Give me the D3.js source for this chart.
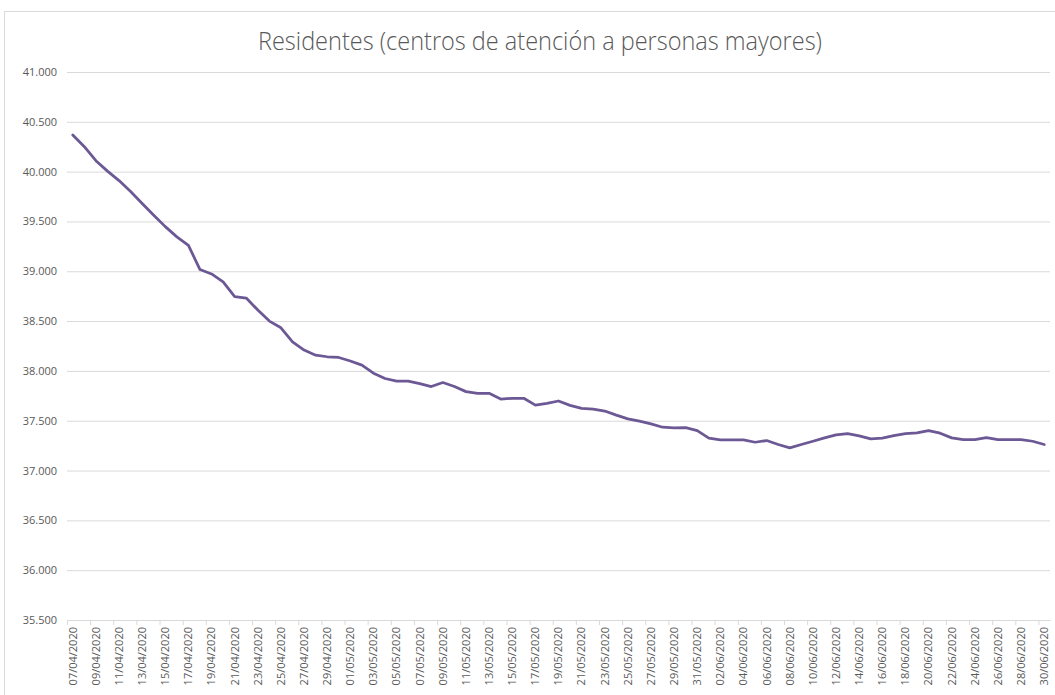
<!DOCTYPE html>
<html lang="es">
<head>
<meta charset="utf-8">
<title>Residentes</title>
<script src="https://cdn.jsdelivr.net/npm/d3@7"></script>
<style>
  body { margin: 0; background: #fff; }
  text { font-family: "Open Sans", sans-serif; }
</style>
</head>
<body>
<script>
// categories: one per day, 07/04/2020 .. 30/06/2020
var startDay = new Date(2020, 3, 7);
var endDay = new Date(2020, 6, 1);
var days = d3.timeDay.range(startDay, endDay);
var fmtDay = d3.timeFormat("%d/%m/%Y");
var dayLabels = days.map(fmtDay);

// residents per day
var residentes = [
  40368, 40250, 40110, 40005, 39910, 39800, 39680, 39563, 39448, 39345,
  39260, 39017, 38973, 38894, 38745, 38731, 38611, 38500, 38433, 38292,
  38209, 38158, 38142, 38135, 38100, 38058, 37977, 37924, 37897, 37897,
  37873, 37843, 37883, 37843, 37792, 37775, 37775, 37718, 37725, 37725,
  37657, 37674, 37698, 37654, 37624, 37617, 37597, 37556, 37519, 37496,
  37469, 37435, 37428, 37430, 37401, 37325, 37308, 37308, 37308, 37284,
  37301, 37261, 37228, 37261, 37294, 37328, 37358, 37371, 37348, 37318,
  37325, 37351, 37371, 37378, 37401, 37375, 37328, 37311, 37311, 37331,
  37311, 37311, 37311, 37294, 37261
];

var yTicks = [35500, 36000, 36500, 37000, 37500, 38000, 38500, 39000, 39500, 40000, 40500, 41000];
var titleText = "Residentes (centros de atención a personas mayores)";

var data = dayLabels.map(function(d, i) { return {day: d, value: residentes[i]}; });

var width = 1055, height = 695;
var plot = {left: 67, right: 1050, top: 72, bottom: 620};

var svg = d3.select("body").append("svg")
    .attr("width", width)
    .attr("height", height);

svg.append("rect")
    .attr("width", width).attr("height", height)
    .attr("fill", "#fff");

// chart frame
svg.append("rect")
    .attr("x", 4.5).attr("y", 11.5)
    .attr("width", 1060).attr("height", 700)
    .attr("fill", "none")
    .attr("stroke", "#d9d9d9");

svg.append("text")
    .attr("x", 540).attr("y", 50)
    .attr("text-anchor", "middle")
    .attr("textLength", 564)
    .attr("lengthAdjust", "spacingAndGlyphs")
    .style("font-size", "25px")
    .style("font-weight", 300)
    .attr("fill", "#595959")
    .text(titleText);

var x = d3.scaleBand()
    .domain(dayLabels)
    .range([plot.left, plot.right])
    .padding(0);

var y = d3.scaleLinear()
    .domain([35500, 41000])
    .range([plot.bottom, plot.top]);

// gridlines + y labels
var yAxis = svg.append("g")
    .attr("transform", "translate(" + plot.left + ",0)")
    .call(d3.axisLeft(y)
        .tickValues(yTicks)
        .tickSize(-(plot.right - plot.left))
        .tickPadding(10)
        .tickFormat(function(d) { return d3.format(",.0f")(d).replace(",", "."); }));
yAxis.select(".domain").remove();
yAxis.selectAll(".tick line").attr("stroke", "#d9d9d9");
yAxis.selectAll(".tick text")
    .attr("fill", "#595959")
    .style("font-size", "11px");

// x axis: labels every 2 days, tick marks on category boundaries
var evenDays = dayLabels.filter(function(d, i) { return i % 2 === 0; });
var xAxis = svg.append("g")
    .attr("transform", "translate(0," + plot.bottom + ")")
    .call(d3.axisBottom(x).tickValues(evenDays).tickSize(0));
xAxis.select(".domain").attr("stroke", "#d9d9d9");
xAxis.selectAll(".tick text")
    .attr("fill", "#595959")
    .style("font-size", "11px")
    .attr("text-anchor", "end")
    .attr("transform", "rotate(-90)")
    .attr("x", -7)
    .attr("y", 0)
    .attr("dy", "0.35em");

svg.append("g").selectAll("line")
    .data(evenDays)
    .enter().append("line")
    .attr("x1", function(d) { return x(d) + 0.5; })
    .attr("x2", function(d) { return x(d) + 0.5; })
    .attr("y1", plot.bottom)
    .attr("y2", plot.bottom + 5)
    .attr("stroke", "#d9d9d9");

var line = d3.line()
    .x(function(d) { return x(d.day) + x.bandwidth() / 2; })
    .y(function(d) { return y(d.value); });

svg.append("path")
    .datum(data)
    .attr("fill", "none")
    .attr("stroke", "#6b5894")
    .attr("stroke-width", 2.75)
    .attr("stroke-linejoin", "round")
    .attr("stroke-linecap", "round")
    .attr("d", line);
</script>
</body>
</html>
